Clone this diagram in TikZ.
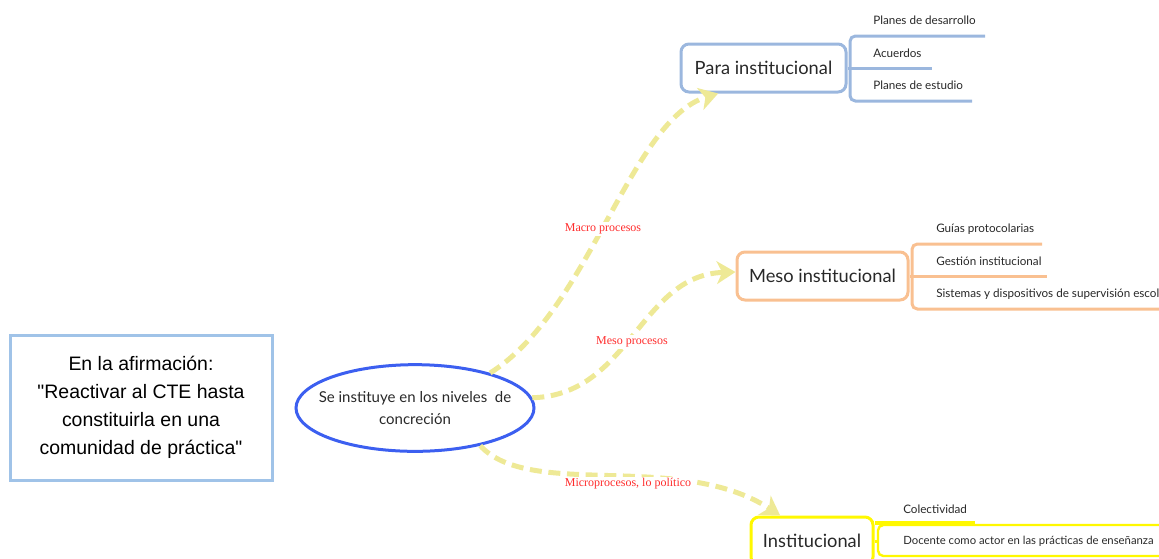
\documentclass[tikz,border=0pt]{standalone}
\usepackage{fontspec}
\setmainfont{Lato}
\newfontfamily\boxfont{Liberation Sans}
\newfontfamily\labfont{Liberation Serif}
\usetikzlibrary{arrows.meta,shapes.geometric}
\definecolor{bblue}{RGB}{155,183,222}
\definecolor{lblue}{RGB}{160,195,232}
\definecolor{borange}{RGB}{249,192,145}
\definecolor{byellow}{RGB}{255,248,0}
\definecolor{eblue}{RGB}{60,95,240}
\definecolor{akhaki}{RGB}{238,233,150}
\definecolor{lred}{RGB}{255,45,45}
\definecolor{txt}{RGB}{40,40,40}
\tikzset{
  mainbox/.style={draw, rounded corners=6pt, line width=2.25pt, minimum height=36pt,
    inner sep=0pt, font=\fontsize{13.7}{16}\selectfont, text=txt},
  itemtext/.style={anchor=west, inner sep=0pt, font=\fontsize{8.75}{11}\selectfont, text=txt},
  branch/.style={line width=2.25pt, rounded corners=4pt},
  flow/.style={akhaki, line width=3.75pt, dash pattern=on 9pt off 5pt,
    -{Stealth[length=14pt,width=17pt,inset=4pt]}},
  flowlabel/.style={fill=white, text=lred, inner sep=1.5pt,
    font=\labfont\fontsize{9}{10}\selectfont}
}
\begin{document}
\begin{tikzpicture}[x=0.75pt,y=-0.75pt]
\useasboundingbox (0,0) rectangle (1159,558);
\clip (0,0) rectangle (1159,558);

% left statement box
\node[draw=lblue, line width=2.25pt, minimum width=196.5pt, minimum height=108.75pt,
  inner sep=0pt, align=center, text=black, font=\boxfont\fontsize{14.6}{21}\selectfont]
  (stmt) at (141,407.5) {En la afirmación:\\"Reactivar al CTE hasta\\constituirla en una\\comunidad de práctica"};

% central ellipse
\node[ellipse, draw=eblue, line width=2.25pt, minimum width=178.5pt, minimum height=65pt,
  inner xsep=-12pt, inner ysep=0pt, align=center, text=txt, font=\fontsize{11.25}{16.5}\selectfont]
  (ell) at (415,408) {Se instituye en los niveles~ de\\concreción};

% level boxes
\node[mainbox, draw=bblue, minimum width=123.75pt] (para) at (763.5,68) {Para institucional};
\node[mainbox, draw=borange, minimum width=128.25pt] (meso) at (822.5,276) {Meso institucional};
\node[mainbox, draw=byellow, minimum width=91.5pt, minimum height=36pt] (inst) at (812,541) {Institucional};

% items: para
\node[itemtext] (p1) at (873,20) {Planes de desarrollo};
\node[itemtext] (p2) at (873,53) {Acuerdos};
\node[itemtext] (p3) at (873,85) {Planes de estudio};
\draw[branch, bblue] (985,36) -- (850,36) -- (850,101) -- (972,101);
\draw[branch, bblue] (para.east) -- (932,68);

% items: meso
\node[itemtext] (m1) at (936,229) {Guías protocolarias};
\node[itemtext] (m2) at (936,261) {Gestión institucional};
\node[itemtext] (m3) at (936,294) {Sistemas y dispositivos de supervisión escolar};
\draw[branch, borange] (1042,244) -- (912,244) -- (912,309) -- (1165,309);
\draw[branch, borange] (meso.east) -- (1047,276);

% items: institucional
\node[itemtext] (i1) at (903,509) {Colectividad};
\node[itemtext, font=\fontsize{8.5}{11}\selectfont] (i2) at (903,541) {Docente como actor en las prácticas de enseñanza};
\draw[line width=1.8pt, byellow, rounded corners=4pt] (1165,525) -- (878,525) -- (878,556) -- (1165,556);
\draw[line width=2.6pt, byellow] (875,523) -- (975,523);
\draw[branch, byellow] (inst.east) -- (878,541);

% flows
\draw[flow] (ell.25) .. controls (590,310) and (630,120) .. ([xshift=29pt]para.south west);
\draw[flow] (ell.5) .. controls (630,395) and (640,275) .. ([yshift=3pt]meso.west);
\draw[flow] (ell.-30) .. controls (530,500) and (680,450) .. ([xshift=23pt]inst.north west);

% flow labels
\node[flowlabel] (lmacro) at (603,229) {Macro procesos};
\node[flowlabel] (lmeso) at (632,342) {Meso procesos};
\node[flowlabel] (lmicro) at (628,484) {Microprocesos, lo político};
\end{tikzpicture}
\end{document}
